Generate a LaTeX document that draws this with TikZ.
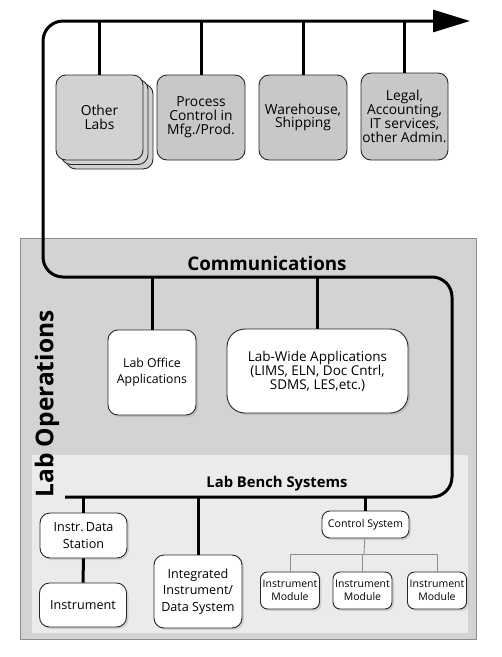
\documentclass[tikz,border=0pt]{standalone}
\usepackage{fontspec}
\setmainfont{Open Sans}
\usetikzlibrary{arrows.meta,shadows}
\definecolor{opsgray}{HTML}{D3D3D3}
\definecolor{benchgray}{HTML}{EBEBEB}
\definecolor{boxgray}{HTML}{C8C8C8}
\definecolor{labsgray}{HTML}{D2D2D2}
\begin{document}
\begin{tikzpicture}[x=1pt, y=-1pt,
  busline/.style={line width=3pt, rounded corners=20pt},
  stub/.style={line width=3pt},
  modline/.style={draw=black!45, line width=0.9pt},
  topbox/.style={rectangle, rounded corners=10pt, draw=black!85, fill=boxgray, line width=0.9pt, minimum width=88pt, minimum height=85pt, align=center, inner sep=1pt, font=\fontsize{13.8}{13.8}\selectfont},
  labbox/.style={rectangle, rounded corners=10pt, draw=black!85, fill=white, line width=0.9pt, align=center, inner sep=1pt, drop shadow={shadow xshift=2pt, shadow yshift=-2pt, opacity=.25}},
  benchbox/.style={labbox, font=\fontsize{12.6}{16.5}\selectfont},
  modbox/.style={labbox, rounded corners=7pt, minimum width=59pt, minimum height=37pt, font=\fontsize{10.5}{12.7}\selectfont},
  heading/.style={font=\bfseries\fontsize{18.8}{22}\selectfont}]
  \useasboundingbox (0,0) rectangle (502,657);
  \fill [opsgray, draw=black!45, thick] (20,238) rectangle (476,639);
  \fill [benchgray] (32,455) rectangle (468,633);
  \node [rotate=90, font=\bfseries\fontsize{24.5}{28}\selectfont](LabOps) at (47,404){Lab Operations};

  \coordinate (busA) at (65,497);
  \coordinate (busB) at (452,497);
  \coordinate (busC) at (452,277);
  \coordinate (busD) at (43,277);
  \coordinate (busE) at (43,21);
  \coordinate (busF) at (470,21);
  \draw [busline, -{Triangle[length=37pt, width=22pt]}] (busA) -- (busB) -- (busC) -- (busD) -- (busE) -- (busF);

  \node [topbox, fill=labsgray, minimum width=87pt, double copy shadow={shadow xshift=5pt, shadow yshift=-4.5pt}](OtherLabs) at (99.5,117.5){Other\\Labs};
  \node [topbox](ProcCtrl) at (201,117.5){Process\\Control in\\Mfg./Prod.};
  \node [topbox](Warehouse) at (303,117.5){Warehouse,\\Shipping};
  \node [topbox, minimum width=87pt, minimum height=87pt](Admin) at (404.5,116.5){Legal,\\Accounting,\\IT services,\\other Admin.};
  \foreach \n in {OtherLabs, ProcCtrl, Warehouse, Admin}
    \draw [stub] (\n.north) -- (\n.north |- busE);

  \node [heading](Comm) at (267,263){Communications};
  \node [labbox, minimum width=88pt, minimum height=85pt, font=\fontsize{12.3}{16.5}\selectfont](LabOffice) at (152,372.5){Lab Office\\Applications};
  \node [labbox, rounded corners=18pt, minimum width=181pt, minimum height=84pt, font=\fontsize{13.5}{14}\selectfont](LabWide) at (317.5,371){Lab-Wide Applications\\(LIMS, ELN, Doc Cntrl,\\SDMS, LES,etc.)};
  \foreach \n in {LabOffice, LabWide}
    \draw [stub] (\n.north) -- (\n.north |- busD);

  \node [heading, font=\bfseries\fontsize{14.8}{18}\selectfont](Bench) at (277,484){Lab Bench Systems};
  \node [benchbox, minimum width=87pt, minimum height=45pt](DataStation) at (83.5,535.5){Instr.\,Data\\Station};
  \node [benchbox, minimum width=87pt, minimum height=44pt](Instrument) at (83,605){Instrument};
  \node [benchbox, minimum width=88pt, minimum height=73pt](Integrated) at (198,591.5){Integrated\\Instrument/\\Data System};
  \node [labbox, rounded corners=8pt, minimum width=87pt, minimum height=27pt, font=\fontsize{10.6}{13}\selectfont](CtrlSys) at (365.5,524.5){Control System};
  \node [modbox](ModA) at (290,590.5){Instrument\\Module};
  \node [modbox](ModB) at (362.5,590.5){Instrument\\Module};
  \node [modbox](ModC) at (437,590.5){Instrument\\Module};
  \foreach \n in {DataStation, Integrated, CtrlSys}
    \draw [stub] (\n.north) -- (\n.north |- busA);
  \draw [stub] (DataStation) -- (Instrument);
  \coordinate (split) at (364,554);
  \draw [modline] (CtrlSys) -- (split);
  \foreach \n in {ModA, ModB, ModC}
    \draw [modline] (split) -| (\n.north);
\end{tikzpicture}
\end{document}
